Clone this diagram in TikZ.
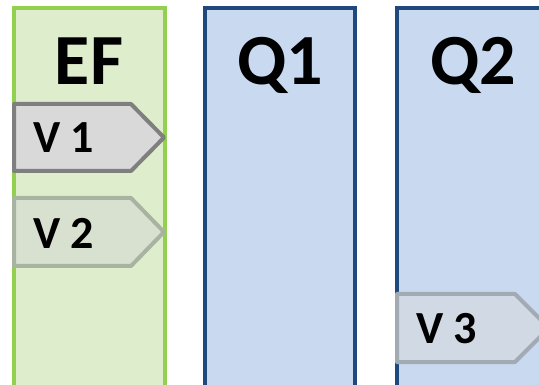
\documentclass[tikz,border=0pt]{standalone}
\usepackage{fontspec}
\setmainfont{Carlito}
\begin{document}
\begin{tikzpicture}[x=1pt,y=-1pt,
  colgreen/.style={draw=efline,fill=effill,line width=4pt},
  colblue/.style={draw=qline,fill=qfill,line width=4pt},
  title/.style={font=\bfseries\fontsize{72}{72}\selectfont,anchor=base},
  vtag/.style={font=\bfseries\fontsize{46}{46}\selectfont,anchor=west,inner sep=0pt},
  v1box/.style={draw=tagdark,fill=tagfill,line width=4pt,line join=round},
  v2box/.style={draw=taglight,fill=tagfillg,line width=4pt,line join=round},
  v3box/.style={draw=tagblue,fill=tagfillb,line width=4pt,line join=round}]
\definecolor{efline}{HTML}{92D050}
\definecolor{effill}{HTML}{DEEECC}
\definecolor{qline}{HTML}{1F497D}
\definecolor{qfill}{HTML}{C9DAF0}
\definecolor{tagdark}{HTML}{7F7F7F}
\definecolor{tagfill}{HTML}{D9D9D9}
\definecolor{taglight}{HTML}{A9B3A2}
\definecolor{tagfillg}{HTML}{D8E0CF}
\definecolor{tagblue}{HTML}{A2AAB3}
\definecolor{tagfillb}{HTML}{D0D9E4}
\useasboundingbox (0,0) rectangle (539,385);
\clip (0,0) rectangle (539,385);
% columns
\draw[colgreen] (13.5,8) rectangle (164.5,400);
\draw[colblue] (205,8) rectangle (355,400);
\draw[colblue] (397,8) rectangle (560,400);
\node[title] (ef) at (89,85) {EF};
\node[title] (q1) at (280,85) {Q1};
\node[title] (q2) at (473,85) {Q2};
% tags
\draw[v1box] (14,104) -- (131,104) -- (164,137.5) -- (131,171) -- (14,171) -- cycle;
\node[vtag] (v1) at (33,138) {V 1};
\draw[v2box] (14,198) -- (131,198) -- (164,232) -- (131,266) -- (14,266) -- cycle;
\node[vtag] (v2) at (33,233) {V 2};
\draw[v3box] (397,294) -- (515,294) -- (549,328) -- (515,362) -- (397,362) -- cycle;
\node[vtag] (v3) at (416,329) {V 3};
\end{tikzpicture}
\end{document}
